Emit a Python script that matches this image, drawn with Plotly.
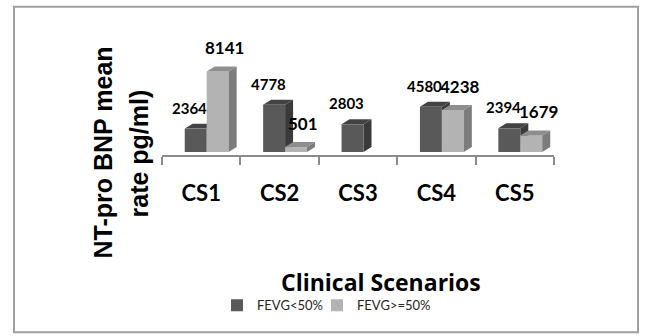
import plotly.graph_objects as go

# ---- data -------------------------------------------------------------
categories = ["CS1", "CS2", "CS3", "CS4", "CS5"]
fevg_low = [2364, 4778, 2803, 4580, 2394]        # FEVG<50%
fevg_high = [8141, 501, None, 4238, 1679]        # FEVG>=50%
series_names = ["FEVG<50%", "FEVG>=50%"]

# ---- geometry ---------------------------------------------------------
W, H = 645, 336
ML, MR, MT, MB = 162, 91, 52.5, 181
Y0, Y1 = -300, 10000
X0, X1 = -0.5, 4.5
plot_w = W - ML - MR
plot_h = H - MT - MB
ux = (X1 - X0) / plot_w          # x units per pixel
uy = (Y1 - Y0) / plot_h          # y units per pixel

BAR_W = 0.28
OFFSETS = [-0.21, 0.07]
DX = 8 * ux                      # depth of the 3-D extrusion
DY = 5 * uy

FRONT = ["#595959", "#b3b3b3"]
TOP = ["#434343", "#8e8e8e"]
SIDE = ["#3a3a3a", "#7c7c7c"]
LAYER = ["below", "above"]
LABEL_SIZE = [15, 17]
LABEL_XSHIFT = [-6, 7]
LABEL_YSHIFT = [21, 24]
LEGENDS = ["legend", "legend2"]
LEGEND_X_PX = [217, 317]


def px_to_paper_x(px):
    return (px - ML) / plot_w


def px_to_paper_y(py):
    return (H - MB - py) / plot_h


fig = go.Figure()
shapes = []
annotations = []

for s, values in enumerate([fevg_low, fevg_high]):
    xs = list(range(len(categories)))
    fig.add_trace(go.Bar(
        x=xs, y=values, width=BAR_W, offset=OFFSETS[s],
        marker=dict(color=FRONT[s], line=dict(width=0)),
        name=series_names[s], hoverinfo="skip", legend=LEGENDS[s],
    ))
    for i, v in enumerate(values):
        if v is None:
            continue
        xl = i + OFFSETS[s]
        xr = xl + BAR_W
        # top face
        shapes.append(dict(
            type="path", xref="x", yref="y", layer=LAYER[s],
            path=f"M{xl},{v} L{xr},{v} L{xr + DX},{v + DY} L{xl + DX},{v + DY} Z",
            fillcolor=TOP[s], line=dict(width=0),
        ))
        # right side face
        shapes.append(dict(
            type="path", xref="x", yref="y", layer=LAYER[s],
            path=f"M{xr},0 L{xr},{v} L{xr + DX},{v + DY} L{xr + DX},{DY} Z",
            fillcolor=SIDE[s], line=dict(width=0),
        ))
        # value label
        annotations.append(dict(
            x=xl + BAR_W / 2, y=v, xref="x", yref="y",
            text=str(v), showarrow=False,
            xanchor="center", yanchor="middle",
            xshift=LABEL_XSHIFT[s], yshift=LABEL_YSHIFT[s],
            font=dict(family="Lato", size=LABEL_SIZE[s], weight="bold", color="black"),
        ))

# y-axis title, two lines
for text, cx, cy in [("NT-pro BNP mean", 103, 152.5), ("rate pg/ml)", 139, 153.5)]:
    annotations.append(dict(
        x=px_to_paper_x(cx), y=px_to_paper_y(cy), xref="paper", yref="paper",
        text=text, showarrow=False, textangle=-90,
        xanchor="center", yanchor="middle",
        font=dict(family="Liberation Sans", size=25, weight="bold", color="black"),
    ))

# x-axis title
annotations.append(dict(
    x=px_to_paper_x(380.5), y=px_to_paper_y(283), xref="paper", yref="paper",
    text="Clinical Scenarios", showarrow=False,
    xanchor="center", yanchor="middle",
    font=dict(family="Open Sans", size=23, weight="bold", color="black"),
))

# outer chart frame
shapes.append(dict(
    type="rect", xref="paper", yref="paper",
    x0=px_to_paper_x(14), x1=px_to_paper_x(638),
    y0=px_to_paper_y(333), y1=px_to_paper_y(6),
    line=dict(color="#a0a0a0", width=2), fillcolor="rgba(0,0,0,0)",
))

legend_style = dict(
    orientation="h", y=px_to_paper_y(306),
    xanchor="left", yanchor="middle",
    font=dict(family="Lato", size=13, color="#262626"),
    bgcolor="rgba(0,0,0,0)",
)

fig.update_layout(
    width=W, height=H,
    margin=dict(l=ML, r=MR, t=MT, b=MB, pad=0),
    paper_bgcolor="white", plot_bgcolor="white",
    barmode="overlay",
    showlegend=True,
    legend=dict(x=px_to_paper_x(LEGEND_X_PX[0]), **legend_style),
    legend2=dict(x=px_to_paper_x(LEGEND_X_PX[1]), **legend_style),
    xaxis=dict(
        range=[X0, X1], tickmode="array",
        tickvals=list(range(len(categories))), ticktext=categories,
        ticks="", showline=True, linecolor="#8c8c8c", linewidth=1.5,
        showgrid=False, zeroline=False,
        tickfont=dict(family="Lato", size=22, weight="bold", color="black"),
        ticklabelstandoff=18,
        minor=dict(
            tickmode="array",
            tickvals=[i - 0.5 for i in range(len(categories) + 1)],
            ticks="outside", ticklen=8, tickcolor="#8c8c8c", tickwidth=1.5,
            showgrid=False,
        ),
    ),
    yaxis=dict(range=[Y0, Y1], visible=False),
    shapes=shapes,
    annotations=annotations,
)

fig.write_html("out.html")
